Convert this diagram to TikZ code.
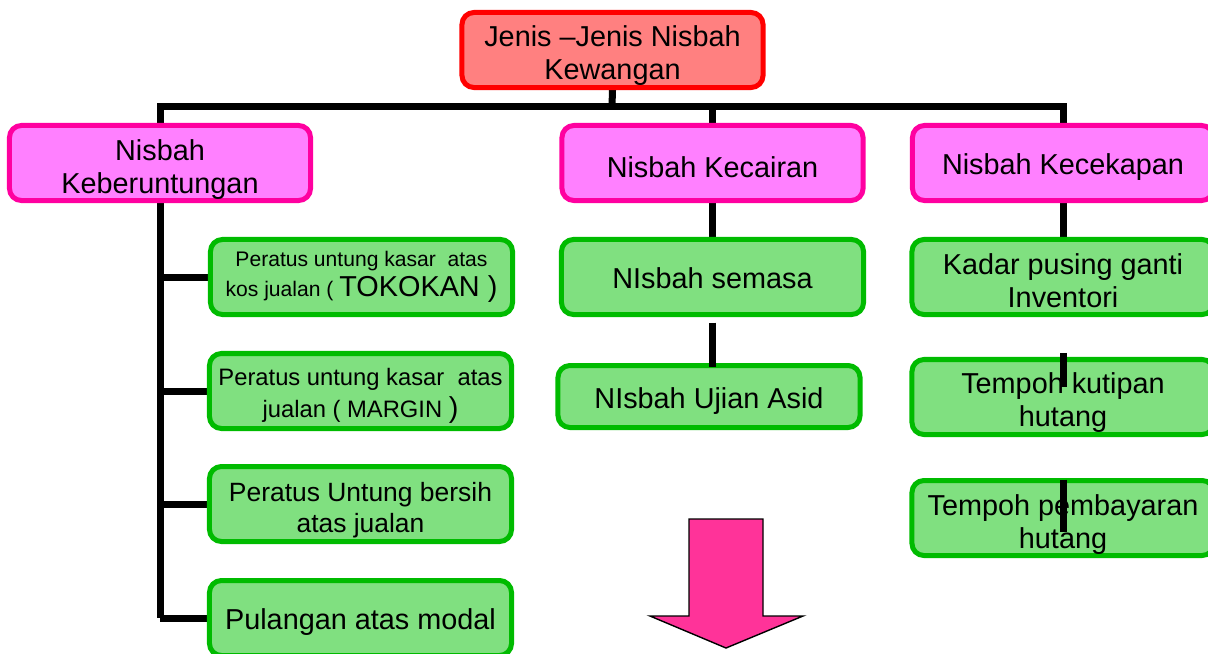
\documentclass[tikz,border=0pt]{standalone}
\usepackage{fontspec}
\setmainfont{Liberation Sans}
\usetikzlibrary{backgrounds}
\definecolor{headfill}{RGB}{255,128,128}
\definecolor{headline}{RGB}{255,0,0}
\definecolor{groupfill}{RGB}{255,128,255}
\definecolor{groupline}{RGB}{255,0,160}
\definecolor{itemfill}{RGB}{128,224,128}
\definecolor{itemline}{RGB}{0,187,0}
\definecolor{arrowpink}{RGB}{255,51,153}
\newcommand{\boxstrut}[1][0.8cm]{\rule{0pt}{#1}}

\begin{document}
\begin{tikzpicture}
  [x=0.025cm,y=-0.025cm,
   every node/.style={rounded corners=0.3cm,line width=0.125cm,inner sep=0pt,align=center,
     font=\fontsize{20.5}{23.5}\selectfont},
   headbox/.style={draw=headline,fill=headfill,minimum width=7.525cm,minimum height=1.875cm},
   groupbox/.style={draw=groupline,fill=groupfill,minimum width=7.525cm,minimum height=1.875cm},
   itembox/.style={draw=itemline,fill=itemfill,minimum width=7.55cm,minimum height=1.875cm},
   link/.style={line width=0.175cm}]
  \useasboundingbox (0,0) rectangle (1208,653);
  \clip (0,0) rectangle (1208,653);

  \node[headbox] (jenis) at (612.5,50) {\boxstrut Jenis --Jenis Nisbah\\Kewangan};

  \node[groupbox] (untung) at (160,163) {\boxstrut[0.84cm]Nisbah\\Keberuntungan};
  \node[groupbox] (cair) at (712.5,163) {\boxstrut[0.73cm]Nisbah Kecairan};
  \node[groupbox] (cekap) at (1063,163) {\boxstrut[0.73cm]Nisbah Kecekapan};

  \node[itembox,font=\fontsize{15}{21.3}\selectfont] (u1) at (361.5,277)
    {Peratus untung kasar\ \ atas\\kos jualan ( {\fontsize{20.5}{21.3}\selectfont TOKOKAN )}};
  \node[itembox,font=\fontsize{16.9}{22.7}\selectfont] (u2) at (360.5,391)
    {\boxstrut[0.69cm]Peratus untung kasar\ \ atas\\jualan ( MARGIN {\fontsize{20.5}{22.7}\selectfont )}};
  \node[itembox,font=\fontsize{18.8}{22}\selectfont] (u3) at (360.5,504)
    {\boxstrut[0.78cm]Peratus Untung bersih\\atas jualan};
  \node[itembox] (u4) at (360.5,618) {\boxstrut[0.73cm]Pulangan atas modal};

  \node[itembox] (c1) at (712.5,277) {\boxstrut[0.6cm]NIsbah semasa};
  \node[itembox,minimum height=1.55cm] (c2) at (709,396.5) {\boxstrut[0.73cm]NIsbah Ujian Asid};

  \node[itembox] (k1) at (1063,277) {\boxstrut[0.7cm]Kadar pusing ganti\\Inventori};
  \node[itembox] (k2) at (1063,397) {\boxstrut Tempoh kutipan\\hutang};
  \node[itembox] (k3) at (1063,518) {\boxstrut[0.86cm]Tempoh pembayaran\\hutang};

  \begin{scope}[on background layer]
    \coordinate (bar) at (612,106);
    \draw[link] (jenis.south) -- (bar);
    \draw[link] (untung.north) -- (untung.north |- bar) -- (cekap.north |- bar) -- (cekap.north);
    \draw[link] (cair.north |- bar) -- (cair.north);
    \draw[link] (untung.south) -- (untung.south |- u4.west);
    \foreach \n in {u1,u2,u3,u4}
      \draw[link] (untung.south |- \n.west) -- (\n.west);
    \draw[link] (cair.south) -- (c1.north);
    \draw[link] (cekap.south) -- (k1.north);
  \end{scope}

  \draw[link] ([yshift=-0.14cm]c1.south) -- ([yshift=-0.11cm]c1.south |- c2.north);
  \draw[link] ([yshift=0.1cm]k2.north) -- ([yshift=0.25cm]k2.center);
  \draw[link] ([yshift=-0.04cm]k3.north) -- ([yshift=-0.35cm]k3.center);

  \draw[fill=arrowpink,line width=1pt] (689,519) -- (763,519) -- (763,616) -- (803,616)
    -- (726,648) -- (650,616) -- (689,616) -- cycle;
\end{tikzpicture}
\end{document}
